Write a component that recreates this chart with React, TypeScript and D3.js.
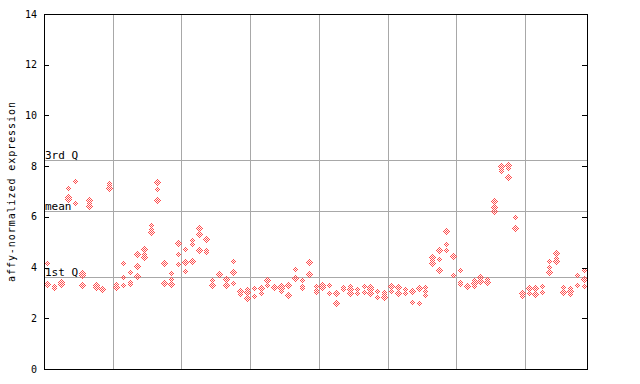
import React from "react";
import * as d3 from "d3";

const yTicks = [0, 2, 4, 6, 8, 10, 12, 14];
const quartileLabels = ["3rd Q", "mean", "1st Q"];
const quartileValues = [8.23, 6.23, 3.63];
const groupBoundaries = [10, 20, 30, 40, 50, 60, 70];
const sampleCount = 79;

const sampleValues: number[][] = [
  [4.17, 3.36, 3.3],
  [3.28, 3.2],
  [3.45, 3.37, 3.3],
  [7.13, 6.8, 6.7],
  [7.4, 6.55],
  [3.78, 3.7, 3.3],
  [6.67, 6.55, 6.43],
  [3.3, 3.25],
  [3.17, 3.1],
  [7.35, 7.25, 7.13],
  [3.35, 3.25, 3.19],
  [4.17, 3.64, 3.31],
  [3.81, 3.44, 3.35],
  [4.52, 4.05, 3.67],
  [4.73, 4.52, 4.43],
  [5.69, 5.51, 5.4],
  [7.36, 7.09, 6.65],
  [4.18, 3.4, 3.34],
  [3.77, 3.55, 3.35],
  [4.96, 4.52, 4.13],
  [4.72, 4.21, 3.85],
  [5.09, 4.92, 4.25],
  [5.55, 5.31, 4.69],
  [5.11, 4.69, 4.6],
  [3.51, 3.31, 3.27],
  [3.79, 3.75],
  [3.54, 3.31, 3.27],
  [4.26, 3.81, 3.38],
  [3.08, 3.02, 2.96],
  [3.14, 3.05, 2.79],
  [3.18, 2.88],
  [3.24, 3.2, 2.99],
  [3.51, 3.31],
  [3.23, 3.19],
  [3.29, 3.19, 3.09],
  [3.31, 3.27, 2.92],
  [3.94, 3.58],
  [3.51, 3.29, 3.19],
  [4.25, 4.21, 3.73],
  [3.27, 3.12, 3.03],
  [3.31, 3.24],
  [3.3, 2.99],
  [2.98, 2.94, 2.59],
  [3.24, 3.14],
  [3.27, 3.15, 3.01],
  [3.14, 2.99],
  [3.27, 3.05],
  [3.25, 3.14, 3.01],
  [3.09, 2.85],
  [3.05, 2.94, 2.83],
  [3.27, 3.23, 3.09],
  [3.25, 2.99],
  [3.14, 2.99],
  [3.07, 3.03, 2.63],
  [3.24, 3.2, 2.59],
  [3.22, 3.07, 2.92],
  [4.43, 4.3, 4.19],
  [4.69, 4.34, 3.89],
  [5.44, 4.92, 4.69],
  [4.45, 4.41, 3.71],
  [3.89, 3.44, 3.35],
  [3.33, 3.29],
  [3.51, 3.38, 3.29],
  [3.64, 3.46, 3.42],
  [3.54, 3.44],
  [6.63, 6.4, 6.22],
  [8.05, 8.0, 7.9, 7.8],
  [8.05, 7.93, 7.56],
  [5.98, 5.59, 5.55],
  [2.99, 2.87],
  [3.21, 2.99],
  [3.21, 2.96],
  [3.27, 3.03],
  [4.25, 4.02, 3.81],
  [4.56, 4.36, 4.27],
  [3.22, 3.03, 2.99],
  [3.21, 3.09, 2.96],
  [3.72, 3.3],
  [3.9, 3.54, 3.27],
];

const W = 640;
const H = 384;
const left = 44;
const right = 587;
const top = 14;
const bottom = 369;
const red = "#ff4d4d";
const grid = "#a8a8a8";
const mono = "'DejaVu Sans Mono', 'Liberation Mono', monospace";

export default function App() {
  const x = d3.scaleLinear().domain([0, sampleCount]).range([left, right]);
  const y = d3.scaleLinear().domain([0, 14]).range([bottom, top]);
  const r = 3.5;

  const points: { cx: number; cy: number; key: string }[] = [];
  sampleValues.forEach((vals, i) => {
    vals.forEach((v, j) => {
      points.push({
        cx: Math.round(x(i + 0.5)),
        cy: Math.round(y(v)),
        key: `${i}-${j}`,
      });
    });
  });

  return (
    <svg
      width={W}
      height={H}
      style={{ position: "absolute", left: 0, top: 0, background: "#fff" }}
    >
      <defs>
        <pattern id="checker" width={2} height={2} patternUnits="userSpaceOnUse">
          <rect x={0} y={0} width={1} height={1} fill={red} />
          <rect x={1} y={1} width={1} height={1} fill={red} />
        </pattern>
      </defs>
      {groupBoundaries.map((b) => (
        <line
          key={`v${b}`}
          x1={Math.round(x(b)) + 0.5}
          x2={Math.round(x(b)) + 0.5}
          y1={top}
          y2={bottom}
          stroke={grid}
          strokeWidth={1}
        />
      ))}
      {quartileValues.map((q, i) => (
        <g key={`q${i}`}>
          <line
            x1={left}
            x2={right}
            y1={Math.round(y(q)) + 0.5}
            y2={Math.round(y(q)) + 0.5}
            stroke={grid}
            strokeWidth={1}
          />
          <text
            x={left + 1}
            y={Math.round(y(q)) - 1}
            fontFamily={mono}
            fontSize={11}
            fill="#000"
          >
            {quartileLabels[i]}
          </text>
        </g>
      ))}
      <g shapeRendering="crispEdges">
        {points.map((p) => (
          <polygon
            key={p.key}
            points={`${p.cx + 0.5},${p.cy - r + 0.5} ${p.cx + r + 0.5},${p.cy + 0.5} ${p.cx + 0.5},${p.cy + r + 0.5} ${p.cx - r + 0.5},${p.cy + 0.5}`}
            fill="url(#checker)"
          />
        ))}
      </g>
      <rect
        x={left + 0.5}
        y={top + 0.5}
        width={right - left}
        height={bottom - top}
        fill="none"
        stroke="#000"
        strokeWidth={1}
      />
      {yTicks.map((t) => (
        <g key={`t${t}`}>
          <line
            x1={left}
            x2={left + 5}
            y1={Math.round(y(t)) + 0.5}
            y2={Math.round(y(t)) + 0.5}
            stroke="#000"
          />
          <line
            x1={right - 5}
            x2={right}
            y1={Math.round(y(t)) + 0.5}
            y2={Math.round(y(t)) + 0.5}
            stroke="#000"
          />
          <text
            x={37}
            y={y(t) + 3.5}
            textAnchor="end"
            fontFamily={mono}
            fontSize={10}
            fill="#000"
          >
            {t}
          </text>
        </g>
      ))}
      <text
        transform={`translate(15, 192) rotate(-90)`}
        textAnchor="middle"
        fontFamily={mono}
        fontSize={10}
        textLength={180}
        lengthAdjust="spacing"
        fill="#000"
      >
        affy-normalized expression
      </text>
    </svg>
  );
}
